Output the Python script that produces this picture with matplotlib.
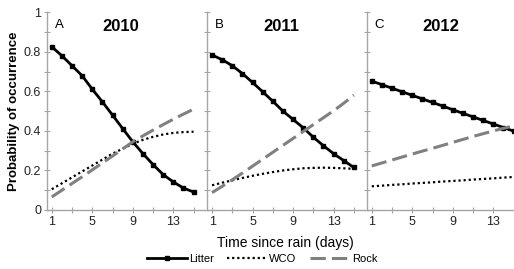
import matplotlib
matplotlib.use('Agg')
import matplotlib.pyplot as plt
from matplotlib.ticker import MultipleLocator, FixedLocator

plt.rcParams['font.family'] = ['Liberation Sans', 'DejaVu Sans']

## data (days since rain 1..15)
days = list(range(1, 16))
years = ['2010', '2011', '2012']
letters = ['A', 'B', 'C']
yticks = [0, 0.2, 0.4, 0.6, 0.8, 1.0]
ytick_labels = ['0', '0.2', '0.4', '0.6', '0.8', '1']

litter_2010 = [0.826, 0.780, 0.730, 0.679, 0.611, 0.547, 0.480, 0.412, 0.345, 0.285, 0.230, 0.179, 0.142, 0.111, 0.091]
wco_2010 = [0.105, 0.135, 0.165, 0.195, 0.225, 0.255, 0.285, 0.310, 0.335, 0.355, 0.370, 0.382, 0.390, 0.394, 0.396]
rock_2010 = [0.066, 0.100, 0.134, 0.168, 0.203, 0.238, 0.273, 0.309, 0.345, 0.375, 0.404, 0.432, 0.459, 0.485, 0.510]

litter_2011 = [0.784, 0.760, 0.730, 0.690, 0.645, 0.598, 0.550, 0.500, 0.458, 0.416, 0.368, 0.325, 0.285, 0.250, 0.215]
wco_2011 = [0.125, 0.138, 0.150, 0.162, 0.173, 0.183, 0.192, 0.200, 0.206, 0.211, 0.213, 0.214, 0.213, 0.211, 0.208]
rock_2011 = [0.088, 0.120, 0.153, 0.187, 0.222, 0.257, 0.292, 0.327, 0.362, 0.397, 0.432, 0.467, 0.502, 0.540, 0.581]

litter_2012 = [0.652, 0.634, 0.616, 0.598, 0.580, 0.562, 0.544, 0.526, 0.507, 0.489, 0.471, 0.453, 0.435, 0.417, 0.399]
wco_2012 = [0.120, 0.123, 0.127, 0.130, 0.134, 0.137, 0.140, 0.144, 0.147, 0.150, 0.154, 0.157, 0.160, 0.164, 0.167]
rock_2012 = [0.223, 0.238, 0.253, 0.268, 0.283, 0.298, 0.312, 0.327, 0.342, 0.357, 0.372, 0.386, 0.400, 0.413, 0.426]

litter = [litter_2010, litter_2011, litter_2012]
wco = [wco_2010, wco_2011, wco_2012]
rock = [rock_2010, rock_2011, rock_2012]

W, H = 514, 269
fig = plt.figure(figsize=(W / 100, H / 100), dpi=100)

## panel placement in pixels (left edge, width); last panel runs off the right edge
lefts = [46.7, 207.0, 366.7]
width = 158.0
bottom = (H - 210.0) / H
height = (210.0 - 12.3) / H
spine_col = '#a6a6a6'

for i in range(3):
	ax = fig.add_axes([lefts[i] / W, bottom, width / W, height])
	ax.plot(days, litter[i], color='black', lw=2.0, marker='s', ms=2.2, label='Litter')
	ax.plot(days, wco[i], color='black', lw=1.6, ls=(0, (1, 1.3)), label='WCO')
	ax.plot(days, rock[i], color='#808080', lw=2.2, ls=(0, (5, 2)), label='Rock')

	ax.set_xlim(0.5, 16.1)
	ax.set_ylim(0, 1)
	for s in ['top', 'right']:
		ax.spines[s].set_visible(False)
	for s in ['left', 'bottom']:
		ax.spines[s].set_color(spine_col)
		ax.spines[s].set_linewidth(1.0)

	ax.xaxis.set_major_locator(FixedLocator([1, 5, 9, 13]))
	ax.xaxis.set_minor_locator(FixedLocator([3, 7, 11, 15]))
	ax.yaxis.set_major_locator(FixedLocator(yticks))
	ax.yaxis.set_minor_locator(MultipleLocator(0.1))
	ax.tick_params(which='both', direction='inout', color=spine_col, length=4, width=0.8,
		labelsize=9, labelcolor='#222222', pad=2)
	if i == 0:
		ax.set_yticklabels(ytick_labels)
		ax.set_ylabel('Probability of occurrence', fontsize=9.5, fontweight='bold', labelpad=3)
	else:
		ax.set_yticklabels([])

	ax.text(0.05, 0.965, letters[i], transform=ax.transAxes, fontsize=9.5, va='top', ha='left')
	ax.text(0.47, 0.965, years[i], transform=ax.transAxes, fontsize=12, fontweight='bold',
		va='top', ha='center')

	if i == 0:
		handles, labels = ax.get_legend_handles_labels()

fig.text(285 / W, 1 - 243 / H, 'Time since rain (days)', fontsize=10, ha='center', va='center')
fig.legend(handles, labels, loc='center', bbox_to_anchor=(262 / W, 1 - 259 / H), ncol=3,
	frameon=False, fontsize=8, handlelength=3.6, handletextpad=0.2, columnspacing=1.2,
	borderpad=0, borderaxespad=0)

plt.savefig('out.png', dpi=100)
